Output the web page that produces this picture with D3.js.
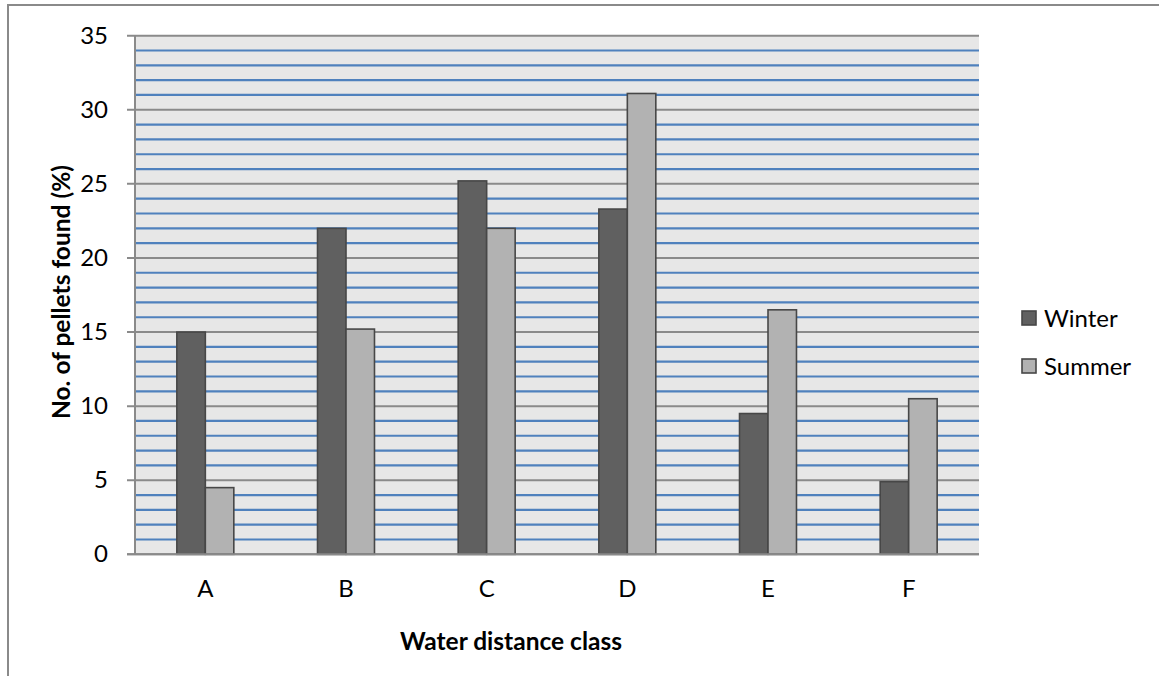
<!DOCTYPE html>
<html>
<head>
<meta charset="utf-8">
<script src="https://cdn.jsdelivr.net/npm/d3@7"></script>
<style>
  html, body { margin: 0; padding: 0; background: #fff; }
  svg { display: block; }
  text { font-family: Lato, "Open Sans", sans-serif; fill: #000; }
</style>
</head>
<body>
<svg id="chart" width="1159" height="676"></svg>
<script>
// ---- data ----
const categories = ["A", "B", "C", "D", "E", "F"];
const seriesNames = ["Winter", "Summer"];
const winterValues = [15.0, 22.0, 25.2, 23.3, 9.5, 4.9];
const summerValues = [4.5, 15.2, 22.0, 31.1, 16.5, 10.5];
const yTickValues = [0, 5, 10, 15, 20, 25, 30, 35];
const minorGridValues = d3.range(0, 36, 1);
const xTitle = "Water distance class";
const yTitle = "No. of pellets found (%)";

const seriesColors = { Winter: "#606060", Summer: "#b2b2b2" };

const svg = d3.select("#chart");

// outer chart border (cropped on right/bottom)
svg.append("rect")
  .attr("x", 8).attr("y", 5)
  .attr("width", 1300).attr("height", 800)
  .attr("fill", "none").attr("stroke", "#8a8a8a").attr("stroke-width", 2);

const plot = { left: 135, right: 979, top: 35.7, bottom: 554.3 };

const y = d3.scaleLinear().domain([0, 35]).range([plot.bottom, plot.top]);
const x0 = d3.scaleBand().domain(categories)
  .range([plot.left, plot.right]).paddingInner(0.595).paddingOuter(0.2975);
const x1 = d3.scaleBand().domain(seriesNames).range([0, x0.bandwidth()]).padding(0);

// plot background
svg.append("rect")
  .attr("x", plot.left).attr("y", plot.top)
  .attr("width", plot.right - plot.left).attr("height", plot.bottom - plot.top)
  .attr("fill", "#e7e7e7");

// minor blue gridlines
svg.append("g").selectAll("line")
  .data(minorGridValues.filter(v => v % 5 !== 0))
  .join("line")
  .attr("x1", plot.left).attr("x2", plot.right)
  .attr("y1", d => y(d)).attr("y2", d => y(d))
  .attr("stroke", "#4f81bd").attr("stroke-width", 2.2);

// major gridlines (gray) with tick extension to the left
svg.append("g").selectAll("line")
  .data(yTickValues)
  .join("line")
  .attr("x1", plot.left - 8).attr("x2", plot.right)
  .attr("y1", d => y(d)).attr("y2", d => y(d))
  .attr("stroke", "#8a8a8a").attr("stroke-width", 2);

// y axis labels via d3 axis
const yAxis = d3.axisLeft(y).tickValues(yTickValues).tickSize(0).tickPadding(0);
const gy = svg.append("g").attr("transform", `translate(${plot.left - 27},0)`).call(yAxis);
gy.select(".domain").remove();
gy.selectAll("text")
  .style("font-family", "Lato, 'Open Sans', sans-serif")
  .style("font-size", "24px").attr("fill", "#000");

// bars
const groups = svg.append("g").selectAll("g")
  .data(categories.map((c, i) => ({ c, vals: [winterValues[i], summerValues[i]] })))
  .join("g")
  .attr("transform", d => `translate(${x0(d.c)},0)`);

groups.selectAll("rect")
  .data(d => d.vals.map((v, j) => ({ s: seriesNames[j], v })))
  .join("rect")
  .attr("x", d => x1(d.s))
  .attr("y", d => y(d.v))
  .attr("width", x1.bandwidth())
  .attr("height", d => y(0) - y(d.v))
  .attr("fill", d => seriesColors[d.s])
  .attr("stroke", "#474747").attr("stroke-width", 1.6);

// left axis line
svg.append("line")
  .attr("x1", plot.left).attr("x2", plot.left)
  .attr("y1", plot.top).attr("y2", plot.bottom)
  .attr("stroke", "#8a8a8a").attr("stroke-width", 2);

// bottom axis
const xAxis = d3.axisBottom(x0).tickSize(0).tickPadding(0);
const gx = svg.append("g").attr("transform", `translate(0,${plot.bottom})`).call(xAxis);
gx.select(".domain").remove();
gx.selectAll("text")
  .attr("dy", 0).attr("y", 43)
  .style("font-family", "Lato, 'Open Sans', sans-serif")
  .style("font-size", "24px").attr("fill", "#000");
svg.append("line")
  .attr("x1", plot.left - 8).attr("x2", plot.right)
  .attr("y1", plot.bottom).attr("y2", plot.bottom)
  .attr("stroke", "#8a8a8a").attr("stroke-width", 2);

// axis titles
svg.append("text")
  .attr("x", 511).attr("y", 650)
  .attr("text-anchor", "middle")
  .style("font-size", "24.5px").style("font-weight", "bold")
  .text(xTitle);

svg.append("text")
  .attr("transform", `translate(70,292) rotate(-90)`)
  .attr("text-anchor", "middle")
  .style("font-size", "24.5px").style("font-weight", "bold")
  .text(yTitle);

// legend
const legend = svg.append("g").selectAll("g")
  .data(seriesNames)
  .join("g")
  .attr("transform", (d, i) => `translate(1022,${311 + i * 48})`);
legend.append("rect")
  .attr("width", 14).attr("height", 14)
  .attr("fill", d => seriesColors[d])
  .attr("stroke", "#474747").attr("stroke-width", 1.6);
legend.append("text")
  .attr("x", 22).attr("y", 7).attr("dy", "0.36em")
  .style("font-size", "24px")
  .text(d => d);
</script>
</body>
</html>
